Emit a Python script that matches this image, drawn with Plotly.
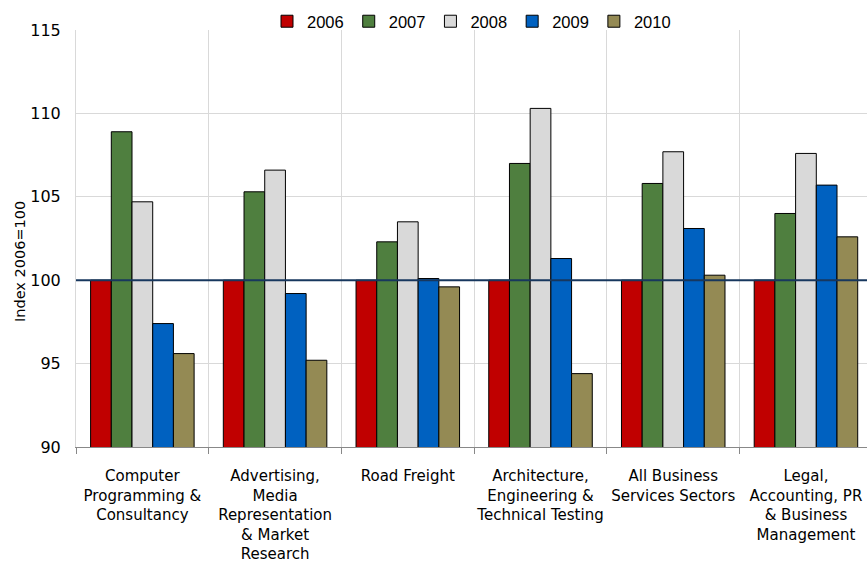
import plotly.graph_objects as go

categories = [
    "Computer<br>Programming &<br>Consultancy",
    "Advertising,<br>Media<br>Representation<br>& Market<br>Research",
    "Road Freight",
    "Architecture,<br>Engineering &<br>Technical Testing",
    "All Business<br>Services Sectors",
    "Legal,<br>Accounting, PR<br>& Business<br>Management",
]
years = ["2006", "2007", "2008", "2009", "2010"]
v2006 = [100, 100, 100, 100, 100, 100]
v2007 = [108.9, 105.3, 102.3, 107.0, 105.8, 104.0]
v2008 = [104.7, 106.6, 103.5, 110.3, 107.7, 107.6]
v2009 = [97.4, 99.2, 100.1, 101.3, 103.1, 105.7]
v2010 = [95.6, 95.2, 99.6, 94.4, 100.3, 102.6]
series = [v2006, v2007, v2008, v2009, v2010]
colors = ["#C00000", "#4F7F3F", "#D9D9D9", "#0061C0", "#948A54"]
y_title = "Index 2006=100"

XFONT = "DejaVu Sans, sans-serif"
YFONT = "DejaVu Sans, sans-serif"
LFONT = "Liberation Sans, Arial, sans-serif"

fig = go.Figure()
for name, vals, col in zip(years, series, colors):
    fig.add_trace(go.Bar(
        name=name, x=categories, y=vals,
        marker=dict(color=col, line=dict(color="#000000", width=1)),
    ))

fig.add_shape(type="line", xref="paper", x0=0, x1=1, yref="y", y0=100, y1=100,
              line=dict(color="#17375E", width=2), layer="above")

fig.add_annotation(text=y_title, textangle=-90, xref="paper", yref="paper",
                   x=-56 / 791, y=(447 - 262) / 417, xanchor="center", yanchor="middle",
                   showarrow=False, font=dict(family=YFONT, size=14.5))

fig.update_layout(
    width=867, height=563,
    barmode="group", bargap=0.22, bargroupgap=0,
    plot_bgcolor="white", paper_bgcolor="white",
    margin=dict(l=76, r=0, t=30, b=116, autoexpand=False),
    font=dict(family=YFONT, size=16, color="#000000"),
    legend=dict(orientation="h", x=0.5, xanchor="center", xref="paper",
                yref="container", y=1 - 4 / 563, yanchor="top",
                font=dict(family=LFONT, size=16.5), itemwidth=30,
                traceorder="normal", bgcolor="rgba(0,0,0,0)"),
    xaxis=dict(
        range=[-0.5, 5.46], tickson="boundaries", showgrid=True,
        gridcolor="#D9D9D9", gridwidth=1, ticks="outside", ticklen=6,
        tickcolor="#888888", showline=True, linecolor="#888888",
        tickfont=dict(family=XFONT, size=15), tickangle=0, automargin=False,
        ticklabelstandoff=15,
    ),
    yaxis=dict(
        range=[90, 115], dtick=5, showgrid=True, gridcolor="#D9D9D9",
        showline=True, linecolor="#D9D9D9", zeroline=False,
        tickfont=dict(family=YFONT, size=16), ticklabelstandoff=11,
        automargin=False,
    ),
)

fig.write_html("out.html", config={"displayModeBar": False},
               post_script="document.body.style.margin='0';document.body.style.padding='0';")
